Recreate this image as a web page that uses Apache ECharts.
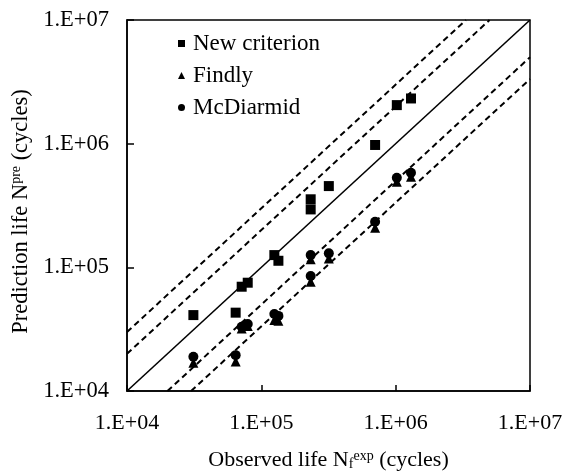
<!DOCTYPE html>
<html>
<head>
<meta charset="utf-8">
<script src="https://cdn.jsdelivr.net/npm/echarts@6/dist/echarts.min.js"></script>
<style>html,body{margin:0;padding:0;background:#fff;}#c{width:566px;height:474px;}</style>
</head>
<body>
<div id="c"></div>
<script>
// Observed life (x) for each specimen
const observedLife = [31200, 64400, 71400, 79200, 125000, 134000, 233000, 233000, 318000, 703000, 1020000, 1300000];
// Predicted lives (y)
const newCriterion = [41100, 43000, 69700, 75100, 125600, 113000, 355000, 294000, 454000, 976000, 2050000, 2320000];
const findly       = [16900, 17300, 32000, 33500, 37500, 37000, 116000, 76600, 118000, 209000, 492000, 540000];
const mcDiarmid    = [18900, 19500, 33100, 34800, 41900, 40500, 125600, 85100, 129700, 234000, 530000, 582000];
// Scatter band factors (y = k * x)
const bandFactors = [3, 2, 1, 1/2, 1/3];
const axisMin = 1e4, axisMax = 1e7;
const tickLabels = ['1.E+04', '1.E+05', '1.E+06', '1.E+07'];

const font = 'Liberation Serif, Times New Roman, serif';
const pairs = ys => observedLife.map((x, i) => [x, ys[i]]);

function bandLine(k) {
  const x0 = Math.max(axisMin, axisMin / k), x1 = Math.min(axisMax, axisMax / k);
  return [[x0, k * x0], [x1, k * x1]];
}

const labelFmt = v => {
  const e = Math.round(Math.log10(v));
  return tickLabels[e - 4] || '';
};

const lineSeries = bandFactors.map(k => ({
  type: 'line', name: 'k' + k, data: bandLine(k), symbol: 'none', silent: true,
  lineStyle: { color: '#000', width: k === 1 ? 1.6 : 2, type: k === 1 ? 'solid' : [6, 4] },
  z: 1, animation: false
}));

const chart = echarts.init(document.getElementById('c'), null, { renderer: 'canvas' });
chart.setOption({
  animation: false,
  backgroundColor: '#fff',
  textStyle: { fontFamily: font, color: '#000' },
  grid: { left: 127, right: 36, top: 20, bottom: 83, containLabel: false, outerBoundsMode: 'none', show: true, borderColor: '#000', borderWidth: 1.5, backgroundColor: 'transparent' },
  legend: {
    orient: 'vertical', left: 178, top: 32, padding: 0, itemGap: 9, itemWidth: 7, itemHeight: 7,
    data: ['New criterion', 'Findly', 'McDiarmid'],
    itemStyle: { opacity: 1 },
    textStyle: { fontFamily: font, fontSize: 23, color: '#000', padding: [0, 0, 0, 3] }
  },
  xAxis: {
    type: 'log', logBase: 10, min: axisMin, max: axisMax,
    name: '{t|Observed life N}{sub|f}{sup|exp}{t| (cycles)}',
    nameLocation: 'middle', nameGap: 58,
    nameTextStyle: {
      fontFamily: font, fontSize: 22, color: '#000',
      rich: {
        t: { fontFamily: font, fontSize: 22, color: '#000' },
        sub: { fontFamily: font, fontSize: 14, color: '#000', verticalAlign: 'bottom', padding: [8, 0, 0, 0] },
        sup: { fontFamily: font, fontSize: 14, color: '#000', verticalAlign: 'top', padding: [0, 0, 6, 0] }
      }
    },
    axisLine: { show: true, lineStyle: { color: '#000', width: 1.5 } },
    axisTick: { show: true, inside: true, length: 6, lineStyle: { color: '#000', width: 1.5 } },
    minorTick: { show: false },
    splitLine: { show: false },
    axisLabel: { formatter: labelFmt, fontFamily: font, fontSize: 22, color: '#000', margin: 21, showMinLabel: true, showMaxLabel: true }
  },
  yAxis: {
    type: 'log', logBase: 10, min: axisMin, max: axisMax,
    name: '{t|Prediction life N}{sup|pre}{t| (cycles)}',
    nameLocation: 'middle', nameGap: 92,
    nameTextStyle: {
      fontFamily: font, fontSize: 22.5, color: '#000', padding: [0, 12, 0, 0],
      rich: {
        t: { fontFamily: font, fontSize: 22.5, color: '#000' },
        sup: { fontFamily: font, fontSize: 14, color: '#000', verticalAlign: 'top', padding: [0, 0, 6, 0] }
      }
    },
    axisLine: { show: true, lineStyle: { color: '#000', width: 1.5 } },
    axisTick: { show: true, inside: true, length: 7, lineStyle: { color: '#000', width: 1.5 } },
    minorTick: { show: false },
    splitLine: { show: false },
    axisLabel: { formatter: labelFmt, fontFamily: font, fontSize: 22.5, color: '#000', margin: 18, showMinLabel: true, showMaxLabel: true }
  },
  series: lineSeries.concat([
    { type: 'scatter', name: 'New criterion', data: pairs(newCriterion), symbol: 'rect', symbolSize: 10, itemStyle: { color: '#000', opacity: 1 }, z: 3 },
    { type: 'scatter', name: 'Findly', data: pairs(findly), symbol: 'triangle', symbolSize: [10, 10], itemStyle: { color: '#000', opacity: 1 }, z: 3 },
    { type: 'scatter', name: 'McDiarmid', data: pairs(mcDiarmid), symbol: 'circle', symbolSize: 10, itemStyle: { color: '#000', opacity: 1 }, z: 4 }
  ])
});
</script>
</body>
</html>
